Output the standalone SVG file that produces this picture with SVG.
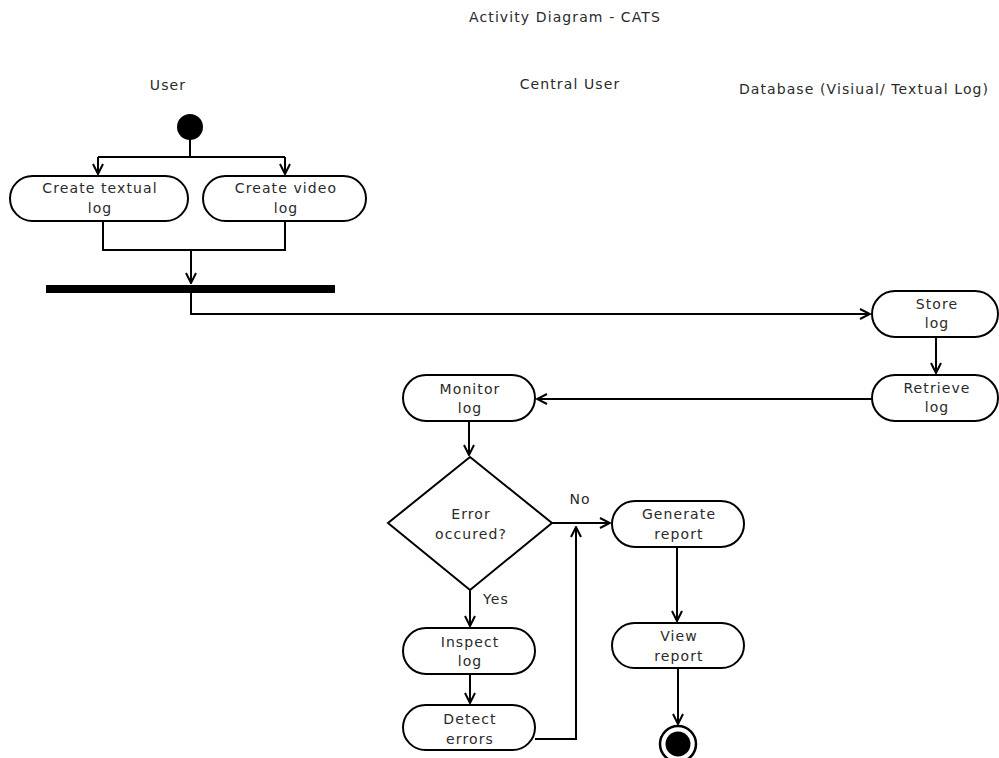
<svg xmlns="http://www.w3.org/2000/svg" width="999" height="758" viewBox="0 0 999 758">
<style>
text{font-family:"DejaVu Sans",sans-serif;font-size:14px;letter-spacing:1.1px;fill:#2a2a2a;text-anchor:middle}
.n{fill:#fff;stroke:#000;stroke-width:2}
.c{fill:none;stroke:#000;stroke-width:2}
</style>
<defs>
<marker id="a" viewBox="0 0 12 12" refX="11" refY="6" markerWidth="12" markerHeight="12" markerUnits="userSpaceOnUse" orient="auto">
<path d="M1,1 L11,6 L1,11" fill="none" stroke="#000" stroke-width="2"/>
</marker>
</defs>
<rect width="999" height="758" fill="#fff"/>
<text x="565" y="22">Activity Diagram - CATS</text>
<text x="168" y="90">User</text>
<text x="570" y="89">Central User</text>
<text x="864" y="94">Database (Visiual/ Textual Log)</text>

<g id="connectors">
<path class="c" d="M190,139 V157 M98,157 H285"/>
<path class="c" d="M98,157 V174" marker-end="url(#a)"/>
<path class="c" d="M285,157 V174" marker-end="url(#a)"/>
<path class="c" d="M103,221 V250 H285 V221"/>
<path class="c" d="M191,250 V283" marker-end="url(#a)"/>
<path class="c" d="M191,293 V314 H870" marker-end="url(#a)"/>
<path class="c" d="M936,337 V373" marker-end="url(#a)"/>
<path class="c" d="M872,399 H537" marker-end="url(#a)"/>
<path class="c" d="M469,421 V455" marker-end="url(#a)"/>
<path class="c" d="M552,523 H610" marker-end="url(#a)"/>
<path class="c" d="M470,590 V626" marker-end="url(#a)"/>
<path class="c" d="M470,674 V703" marker-end="url(#a)"/>
<path class="c" d="M535,739 H576 V527" marker-end="url(#a)"/>
<path class="c" d="M677,547 V621" marker-end="url(#a)"/>
<path class="c" d="M678,668 V724" marker-end="url(#a)"/>
<text x="580" y="504">No</text>
<text x="496" y="604">Yes</text>
</g>

<g id="start"><circle cx="190" cy="127" r="13" fill="#000"/></g>
<g id="createTextual"><rect class="n" x="10" y="176" width="178" height="45" rx="22.5"/><text x="100" y="193">Create textual</text><text x="100" y="213">log</text></g>
<g id="createVideo"><rect class="n" x="203" y="176" width="163" height="45" rx="22.5"/><text x="286" y="193">Create video</text><text x="286" y="213">log</text></g>
<g id="join"><rect x="46" y="285" width="289" height="8" fill="#000"/></g>
<g id="storeLog"><rect class="n" x="872" y="291" width="126" height="46" rx="23"/><text x="937" y="309">Store</text><text x="937" y="328">log</text></g>
<g id="retrieveLog"><rect class="n" x="872" y="375" width="126" height="46" rx="23"/><text x="937" y="393">Retrieve</text><text x="937" y="412">log</text></g>
<g id="monitorLog"><rect class="n" x="403" y="375" width="132" height="46" rx="23"/><text x="470" y="394">Monitor</text><text x="470" y="413">log</text></g>
<g id="decision"><polygon class="n" points="470,457 552,523 470,590 388,523"/><text x="471" y="519">Error</text><text x="471" y="539">occured?</text></g>
<g id="generateReport"><rect class="n" x="612" y="501" width="132" height="46" rx="23"/><text x="679" y="519">Generate</text><text x="679" y="539">report</text></g>
<g id="inspectLog"><rect class="n" x="403" y="628" width="132" height="46" rx="23"/><text x="470" y="647">Inspect</text><text x="470" y="666">log</text></g>
<g id="detectErrors"><rect class="n" x="403" y="705" width="132" height="45" rx="22.5"/><text x="470" y="724">Detect</text><text x="470" y="744">errors</text></g>
<g id="viewReport"><rect class="n" x="612" y="623" width="132" height="45" rx="22.5"/><text x="679" y="641">View</text><text x="679" y="661">report</text></g>
<g id="end"><circle cx="678" cy="744" r="18" fill="#fff" stroke="#000" stroke-width="2.5"/><circle cx="678" cy="744" r="12.5" fill="#000"/></g>
</svg>
